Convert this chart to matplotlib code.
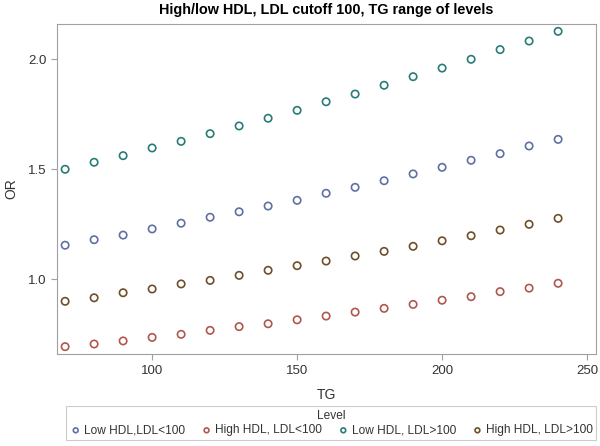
import numpy as np
import matplotlib.pyplot as plt

# --------------------------------------------------------------------------- #
#  Data                                              #
# --------------------------------------------------------------------------- #

tg = [70, 80, 90, 100, 110, 120, 130, 140, 150,
      160, 170, 180, 190, 200, 210, 220, 230, 240]

low_hdl_ldl_lt100 = [1.155, 1.180, 1.201, 1.229, 1.255, 1.282, 1.307, 1.333, 1.359,
                     1.391, 1.418, 1.448, 1.479, 1.509, 1.541, 1.571, 1.606, 1.636]
high_hdl_ldl_lt100 = [0.694, 0.706, 0.720, 0.736, 0.750, 0.768, 0.785, 0.798, 0.816,
                      0.833, 0.851, 0.868, 0.886, 0.905, 0.921, 0.944, 0.960, 0.982]
low_hdl_ldl_gt100 = [1.500, 1.532, 1.562, 1.597, 1.627, 1.662, 1.697, 1.732, 1.768,
                     1.807, 1.842, 1.882, 1.921, 1.960, 2.000, 2.044, 2.083, 2.127]
high_hdl_ldl_gt100 = [0.900, 0.916, 0.939, 0.956, 0.979, 0.995, 1.018, 1.041, 1.062,
                      1.083, 1.106, 1.127, 1.150, 1.175, 1.198, 1.224, 1.250, 1.277]

series = [
    ("Low HDL,LDL<100",     low_hdl_ldl_lt100,  "#445694"),
    ("High HDL, LDL<100",   high_hdl_ldl_lt100, "#A23A2E"),
    ("Low HDL, LDL>100",    low_hdl_ldl_gt100,  "#01665E"),
    ("High HDL, LDL>100",   high_hdl_ldl_gt100, "#543005"),
]

# --------------------------------------------------------------------------- #
#  Figure                                                                      #
# --------------------------------------------------------------------------- #

plt.rcParams["font.family"] = ["Liberation Sans", "DejaVu Sans"]

fig = plt.figure(figsize=(6, 4.46), dpi=100)
ax = fig.add_axes([0.095, 0.206, 0.898, 0.740])

for label, vals, col in series:
    ax.scatter(tg, vals, s=28, facecolors="none", edgecolors=col,
               linewidths=1.2, label=label, alpha=0.85)

ax.set_xlim(67.2, 253)
ax.set_ylim(0.66, 2.16)
ax.set_xticks([100, 150, 200, 250])
ax.set_yticks([1.0, 1.5, 2.0])
ax.set_yticklabels(["1.0", "1.5", "2.0"])

for s in ax.spines.values():
    s.set_color("#a0a0a0")
ax.tick_params(colors="#a0a0a0", labelcolor="#333333", labelsize=9.5,
               length=4, width=0.8)

ax.set_xlabel("TG", fontsize=10, color="#333333", labelpad=8)
ax.set_ylabel("OR", fontsize=10, color="#333333", labelpad=7)
ax.set_title("High/low HDL, LDL cutoff 100, TG range of levels",
             fontsize=10.4, fontweight="bold", pad=7)

leg = fig.legend(loc="lower center", bbox_to_anchor=(0.552, 0.0), ncol=4,
                 title="Level", fontsize=8.6, title_fontsize=8.6,
                 frameon=True, fancybox=False, handletextpad=0.2,
                 columnspacing=1.3, markerscale=0.65, borderpad=0.3,
                 handlelength=1.0, labelspacing=0.2)
leg.get_frame().set_edgecolor("#c0c0c0")
leg.get_frame().set_linewidth(0.8)
for t in leg.get_texts():
    t.set_color("#333333")
leg.get_title().set_color("#333333")

fig.savefig("out.png", dpi=100)
